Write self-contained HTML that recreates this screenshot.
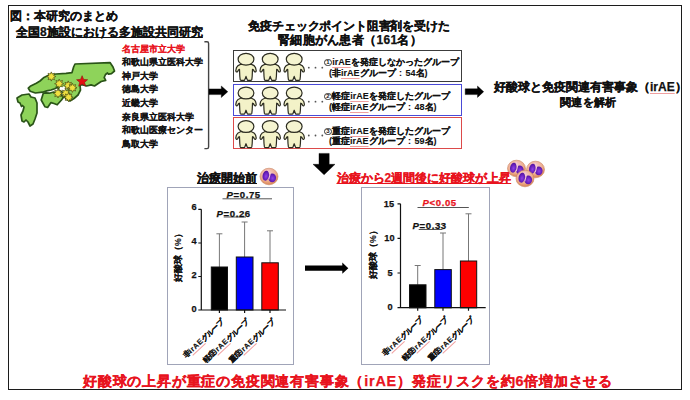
<!DOCTYPE html>
<html><head><meta charset="utf-8">
<style>
*{margin:0;padding:0;box-sizing:border-box}
html,body{width:690px;height:400px;background:#fff;overflow:hidden}
body{position:relative;font-family:"Liberation Sans",sans-serif;color:#111;font-weight:bold;-webkit-text-stroke:0.25px currentColor}
.a{position:absolute;white-space:nowrap}
#frame{position:absolute;left:7.8px;top:4.8px;width:674.4px;height:385.1px;border:1.6px solid #1c1c1c}
.t12{font-size:12px;line-height:12px}
.uni{font-size:9px;line-height:13.55px;-webkit-text-stroke:0.1px currentColor}
.box{position:absolute;left:232.8px;width:229.3px;height:31px;border:1.6px solid #555}
.bt{font-size:9px;line-height:10px;-webkit-text-stroke:0.1px currentColor}
.c{padding:0 3.5px}
.sq{text-decoration:underline rgba(228,80,80,0.55);text-decoration-thickness:0.8px;text-underline-offset:1.5px;text-decoration-skip-ink:none}
.xl .sq{letter-spacing:0.6px}
.cn{display:inline-block;box-sizing:border-box;width:7.6px;height:7.6px;border:0.9px solid #333;border-radius:50%;font-size:6px;line-height:5.8px;text-align:center;vertical-align:1.3px;margin-right:0.6px;-webkit-text-stroke:0;font-weight:bold}
.dots{font-size:5px;line-height:6px;letter-spacing:0px}
.panel{position:absolute;top:187.2px;height:177.5px;border:1.5px solid #a0a4b8}
.red{color:#e8141e}
.u{text-decoration:underline;text-underline-offset:1px;text-decoration-thickness:1px}
svg{position:absolute;left:0;top:0}
.tk{font-size:9.2px;line-height:10px;text-align:right;width:20px;letter-spacing:0.3px}
.xl{-webkit-text-stroke:0.15px currentColor;font-size:7.4px;line-height:8px;transform-origin:100% 50%;transform:rotate(-43deg);text-align:right;width:80px}
.yl{-webkit-text-stroke:0.1px currentColor;font-size:8.7px;line-height:9px;transform:rotate(-90deg);transform-origin:50% 50%;text-align:center;width:60px}
.pv{font-size:9.6px;line-height:10px;letter-spacing:0.6px}
</style></head>
<body>
<div id="frame"></div>

<div class="box" style="top:50.4px;height:31.3px;border-color:#3c3c3c"></div>
<div class="box" style="top:83.7px;height:32.2px;border-color:#4a4ad6"></div>
<div class="box" style="top:117.4px;height:31.8px;border-color:#dc4a4a"></div>
<div class="panel" style="left:167px;width:127px"></div>
<div class="panel" style="left:361px;width:129px"></div>

<svg width="690" height="400" viewBox="0 0 690 400">
<defs>
<g id="pp">
<path d="M-5.5,5.2 C-7.5,5.8 -9,7 -9.6,8.6 L-10.2,11.4 C-10.3,12.6 -9.2,13.2 -8.4,12.4 L-7.4,10.6 L-6.5,10.2 L-6.2,17 L-5.8,20.4 C-5.6,21 -5.1,21.2 -4.6,21.2 L-2,21.2 C-1.5,21.2 -1.2,20.8 -1.1,20.2 L0,17.2 L1.1,20.2 C1.2,20.8 1.5,21.2 2,21.2 L4.6,21.2 C5.1,21.2 5.6,21 5.8,20.4 L6.2,17 L6.5,10.2 L7.4,10.6 L8.4,12.4 C9.2,13.2 10.3,12.6 10.2,11.4 L9.6,8.6 C9,7 7.5,5.8 5.5,5.2 Z" fill="#f3f2c8" stroke="#2c2c20" stroke-width="1.2" stroke-linejoin="round"/>
<ellipse cx="0" cy="0" rx="7.9" ry="5.9" fill="#f5f4d0" stroke="#2c2c20" stroke-width="1.2"/>
</g>
<radialGradient id="cellg" cx="45%" cy="35%" r="65%">
<stop offset="0" stop-color="#f7d2dc"/><stop offset="0.65" stop-color="#eeae90"/><stop offset="1" stop-color="#d9834f"/>
</radialGradient>
<radialGradient id="lobe" cx="55%" cy="55%" r="60%">
<stop offset="0" stop-color="#9040ea"/><stop offset="1" stop-color="#4c0c9a"/>
</radialGradient>
<g id="cell">
<ellipse cx="0" cy="0" rx="9" ry="8.3" fill="url(#cellg)" stroke="#c98462" stroke-width="0.6"/>
<ellipse cx="-3.2" cy="-0.8" rx="3.2" ry="5" fill="url(#lobe)" transform="rotate(12 -3.2 -0.8)"/>
<ellipse cx="3.2" cy="1.3" rx="3.9" ry="4.4" fill="url(#lobe)"/>
<path d="M-0.2,-6.2 L1.2,-2.8 L-0.3,2.8" stroke="#f3c4d8" stroke-width="1.1" fill="none"/>
</g>

</defs>

<!-- map -->
<g fill="#8ed35a" stroke="#2a5418" stroke-width="1.7" stroke-linejoin="round">
<path d="M28.3,88.2 L30.2,86.3 L36.3,83.3 L40,81 L44,77.4 L49,75 L56,74 L66,73.4 L72,72.6 L73.6,67 L75,64 L110,62.6 L113,67 L114.5,71 L111.5,73.6 L108.5,74.2 L107.5,73 L105.5,74.5 L104.2,77.5 L105.7,80.4 L101.2,81.5 L97.8,83.7 L94.5,86 L91.1,84.9 L86.6,86 L83.2,84.9 L80,85 L80.5,90 L78,95 L74,98.5 L70,101 L66.5,99.5 L64,96 L63,93 L61,91 L57.2,87.4 L54.6,88.7 L51,90 L46.7,90.9 L42.4,92.2 L35.4,93 L30.2,91.3 Z"/>
<path d="M43.3,93.2 L45.9,92.8 L49.3,93.2 L53.7,92 L57.2,93.2 L61.5,95 L63.3,97.4 L61.5,100 L57.2,104.8 L54,103.5 L51,102.6 L47.6,107.5 L45,106.8 L41.2,100 Z"/>
<path d="M17,98 L22,95 L29,94 L31,97 L35,98 L37,103 L37,113 L35,119 L33,124 L30,126 L28,122 L26,120 L24,122 L22,121 L21,115 L23,111 L24,107 L22.5,105.5 L21.5,106.5 L20,103 L18,102 Z"/>
</g>
<ellipse cx="63" cy="88.8" rx="3.6" ry="2.4" fill="#fff"/>
<g fill="#f0e040" stroke="#4a4a10" stroke-width="0.7">
<polygon transform="translate(51.3,76.5)" points="0.00,-4.60 0.99,-2.40 3.25,-3.25 2.40,-0.99 4.60,0.00 2.40,0.99 3.25,3.25 0.99,2.40 0.00,4.60 -0.99,2.40 -3.25,3.25 -2.40,0.99 -4.60,0.00 -2.40,-0.99 -3.25,-3.25 -0.99,-2.40"/>
<polygon transform="translate(59.2,83.7)" points="0.00,-4.60 0.99,-2.40 3.25,-3.25 2.40,-0.99 4.60,0.00 2.40,0.99 3.25,3.25 0.99,2.40 0.00,4.60 -0.99,2.40 -3.25,3.25 -2.40,0.99 -4.60,0.00 -2.40,-0.99 -3.25,-3.25 -0.99,-2.40"/>
<polygon transform="translate(68.2,85.5)" points="0.00,-4.60 0.99,-2.40 3.25,-3.25 2.40,-0.99 4.60,0.00 2.40,0.99 3.25,3.25 0.99,2.40 0.00,4.60 -0.99,2.40 -3.25,3.25 -2.40,0.99 -4.60,0.00 -2.40,-0.99 -3.25,-3.25 -0.99,-2.40"/>
<polygon transform="translate(72.4,87.8)" points="0.00,-4.60 0.99,-2.40 3.25,-3.25 2.40,-0.99 4.60,0.00 2.40,0.99 3.25,3.25 0.99,2.40 0.00,4.60 -0.99,2.40 -3.25,3.25 -2.40,0.99 -4.60,0.00 -2.40,-0.99 -3.25,-3.25 -0.99,-2.40"/>
<polygon transform="translate(58,93.4)" points="0.00,-4.60 0.99,-2.40 3.25,-3.25 2.40,-0.99 4.60,0.00 2.40,0.99 3.25,3.25 0.99,2.40 0.00,4.60 -0.99,2.40 -3.25,3.25 -2.40,0.99 -4.60,0.00 -2.40,-0.99 -3.25,-3.25 -0.99,-2.40"/>
<polygon transform="translate(65.7,93.4)" points="0.00,-4.60 0.99,-2.40 3.25,-3.25 2.40,-0.99 4.60,0.00 2.40,0.99 3.25,3.25 0.99,2.40 0.00,4.60 -0.99,2.40 -3.25,3.25 -2.40,0.99 -4.60,0.00 -2.40,-0.99 -3.25,-3.25 -0.99,-2.40"/>
<polygon transform="translate(68.6,97.2)" points="0.00,-4.60 0.99,-2.40 3.25,-3.25 2.40,-0.99 4.60,0.00 2.40,0.99 3.25,3.25 0.99,2.40 0.00,4.60 -0.99,2.40 -3.25,3.25 -2.40,0.99 -4.60,0.00 -2.40,-0.99 -3.25,-3.25 -0.99,-2.40"/>
</g>
<polygon transform="translate(82.1,81.5)" points="0.00,-5.80 1.53,-2.10 5.52,-1.79 2.47,0.80 3.41,4.69 0.00,2.60 -3.41,4.69 -2.47,0.80 -5.52,-1.79 -1.53,-2.10" fill="#e41010" stroke="#901010" stroke-width="0.6"/>

<!-- bracket -->
<path d="M204.4,41.8 L207,41.8 Q208.6,41.8 208.6,43.4 L208.6,147 Q208.6,148.6 207,148.6 L204.4,148.6" fill="none" stroke="#444" stroke-width="1.4"/>
<!-- arrows -->
<path d="M209,88.9 L221.3,88.9 L221.3,86 L227.8,91.7 L221.3,97.5 L221.3,94.6 L209,94.6 Z" fill="#000" stroke="#000" stroke-width="0.4" stroke-linejoin="round"/>
<path d="M465.2,88.8 L477.5,88.8 L477.5,86.1 L483.7,91.7 L477.5,97.4 L477.5,94.6 L465.2,94.6 Z" fill="#000" stroke="#000" stroke-width="0.4" stroke-linejoin="round"/>
<path d="M319,153.4 L329.2,153.4 L329.2,164.3 L335,164.3 L324.1,174.8 L313,164.3 L319,164.3 Z" fill="#000" stroke="#000" stroke-width="0.4" stroke-linejoin="round"/>
<path d="M305,265.5 L342.3,265.5 L342.3,262.5 L348.3,268.2 L342.3,273.8 L342.3,270.8 L305,270.8 Z" fill="#000"/>

<!-- people -->
<use href="#pp" transform="translate(246,59.2)"/>
<use href="#pp" transform="translate(270.2,59.2)"/>
<use href="#pp" transform="translate(294.2,59.2)"/>
<use href="#pp" transform="translate(246,93)"/>
<use href="#pp" transform="translate(270.2,93)"/>
<use href="#pp" transform="translate(294.2,93)"/>
<use href="#pp" transform="translate(246,126.5)"/>
<use href="#pp" transform="translate(270.2,126.5)"/>
<use href="#pp" transform="translate(294.2,126.5)"/>

<g fill="#555"><circle cx="308.8" cy="67.7" r="0.9"/><circle cx="315.5" cy="67.7" r="0.9"/><circle cx="322.3" cy="67.7" r="0.9"/><circle cx="308.8" cy="101.7" r="0.9"/><circle cx="315.5" cy="101.7" r="0.9"/><circle cx="322.3" cy="101.7" r="0.9"/><circle cx="308.8" cy="135.5" r="0.9"/><circle cx="315.5" cy="135.5" r="0.9"/><circle cx="322.3" cy="135.5" r="0.9"/></g>
<!-- cells -->
<use href="#cell" x="269" y="176.5"/>
<use href="#cell" x="516.5" y="168.5"/>
<use href="#cell" x="535.5" y="169.5"/>
<use href="#cell" x="525" y="178.5"/>

<!-- chart 1 -->
<g stroke="#777" stroke-width="1" fill="none">
<path d="M219.4,267 V233.8 M216.4,233.8 H222.4 M244.6,257 V222 M241.6,222 H247.6 M270,262.8 V230.8 M267,230.8 H273"/>
</g>
<rect x="211.3" y="267" width="16.2" height="43" fill="#000" stroke="#111"/>
<rect x="236.3" y="257" width="16.7" height="53" fill="#0000fe" stroke="#111"/>
<rect x="261.8" y="262.8" width="16.5" height="47.2" fill="#fe0000" stroke="#111"/>
<path d="M201.3,209.3 V310 H286 M198.3,209.3 H201.3 M198.3,243 H201.3 M198.3,276.5 H201.3 M198.3,310 H201.3 M219.4,310 V313 M244.6,310 V313 M270,310 V313" stroke="#111" stroke-width="1.2" fill="none"/>
<path d="M222.5,198.8 H272 M223.7,217 H246" stroke="#555" stroke-width="1"/>

<!-- chart 2 -->
<g stroke="#777" stroke-width="1" fill="none">
<path d="M417.7,284.8 V265.5 M414.7,265.5 H420.7 M443,269.6 V233 M440,233 H446 M468.5,261 V213.8 M465.5,213.8 H471.5"/>
</g>
<rect x="409.5" y="284.8" width="16.5" height="23" fill="#000" stroke="#111"/>
<rect x="434.8" y="269.6" width="16.5" height="38.2" fill="#0000fe" stroke="#111"/>
<rect x="460.4" y="261" width="16.3" height="46.8" fill="#fe0000" stroke="#111"/>
<path d="M400.5,203.8 V307.7 H485.7 M397.5,203.8 H400.5 M397.5,238.3 H400.5 M397.5,273 H400.5 M397.5,307.7 H400.5 M417.7,307.7 V310.7 M443,307.7 V310.7 M468.5,307.7 V310.7" stroke="#111" stroke-width="1.2" fill="none"/>
<path d="M417.5,207.5 H468.8 M418.7,229.5 H442.5" stroke="#555" stroke-width="1"/>
</svg>

<div class="a t12" style="left:10px;top:10px">図：本研究のまとめ</div>
<div class="a t12 u" style="left:16px;top:26px">全国8施設における多施設共同研究</div>

<div class="a uni" style="left:122px;top:42.8px">
<div class="red">名古屋市立大学</div>
<div>和歌山県立医科大学</div>
<div>神戸大学</div>
<div>徳島大学</div>
<div>近畿大学</div>
<div>奈良県立医科大学</div>
<div>和歌山医療センター</div>
<div>鳥取大学</div>
</div>

<div class="a t12" style="left:199px;top:20px;text-align:center;width:300px;letter-spacing:-0.15px">免疫チェックポイント阻害剤を受けた</div>
<div class="a t12" style="left:200px;top:33.7px;text-align:center;width:300px;letter-spacing:0.33px">腎細胞がん患者（161名）</div>

<div class="a bt" style="left:324px;top:57px"><span class="cn">1</span><span class="sq">irAE</span>を発症しなかったグループ</div>
<div class="a bt" style="left:329px;top:67.5px">(非<span class="sq">irAE</span>グループ<span class="c">:</span>54名)</div>
<div class="a bt" style="left:324px;top:91px"><span class="cn">2</span>軽症<span class="sq">irAE</span>を発症したグループ</div>
<div class="a bt" style="left:329px;top:102px">(軽症<span class="sq">irAE</span>グループ<span class="c">:</span>48名)</div>
<div class="a bt" style="left:324px;top:126px"><span class="cn">3</span>重症<span class="sq">irAE</span>を発症したグループ</div>
<div class="a bt" style="left:329px;top:136px">(重症<span class="sq">irAE</span>グループ<span class="c">:</span>59名)</div>

<div class="a t12" style="left:494px;top:81px">好酸球と免疫関連有害事象（<span class="sq">irAE</span>）</div>
<div class="a t12" style="left:560px;top:96px;font-size:11px;letter-spacing:0.3px">関連を解析</div>

<div class="a t12 u" style="left:197px;top:172px">治療開始前</div>
<div class="a t12 u red" style="left:336.5px;top:172px">治療から2週間後に好酸球が上昇</div>

<!-- chart1 text -->
<div class="a tk" style="left:177px;top:202.3px">6</div>
<div class="a tk" style="left:177px;top:236.1px">4</div>
<div class="a tk" style="left:177px;top:270.4px">2</div>
<div class="a tk" style="left:177px;top:304px">0</div>
<div class="a yl" style="left:148px;top:251px">好酸球（%）</div>
<div class="a pv" style="left:226.5px;top:190px"><i>P</i>=0.75</div>
<div class="a pv" style="left:216.5px;top:208.5px"><i>P</i>=0.26</div>
<div class="a xl" style="left:142.5px;top:316.5px">非<span class="sq">irAE</span>グループ</div>
<div class="a xl" style="left:167.5px;top:316.5px">軽症<span class="sq">irAE</span>グループ</div>
<div class="a xl" style="left:193.5px;top:316.5px">重症<span class="sq">irAE</span>グループ</div>

<!-- chart2 text -->
<div class="a tk" style="left:374.5px;top:198.6px">15</div>
<div class="a tk" style="left:375px;top:233px">10</div>
<div class="a tk" style="left:373px;top:267.6px">5</div>
<div class="a tk" style="left:373px;top:302px">0</div>
<div class="a yl" style="left:343px;top:247.5px">好酸球（%）</div>
<div class="a pv red" style="left:422.5px;top:198.2px"><i>P</i>&lt;0.05</div>
<div class="a pv" style="left:412.5px;top:220.5px"><i>P</i>=0.33</div>
<div class="a xl" style="left:341.5px;top:314.5px">非<span class="sq">irAE</span>グループ</div>
<div class="a xl" style="left:366.5px;top:314.5px">軽症<span class="sq">irAE</span>グループ</div>
<div class="a xl" style="left:392.5px;top:314.5px">重症<span class="sq">irAE</span>グループ</div>

<div class="a red" style="left:83px;top:373.5px;font-size:14.4px;line-height:15px;letter-spacing:0.8px">好酸球の上昇が重症の免疫関連有害事象（irAE）発症リスクを約6倍増加させる</div>

</body></html>
